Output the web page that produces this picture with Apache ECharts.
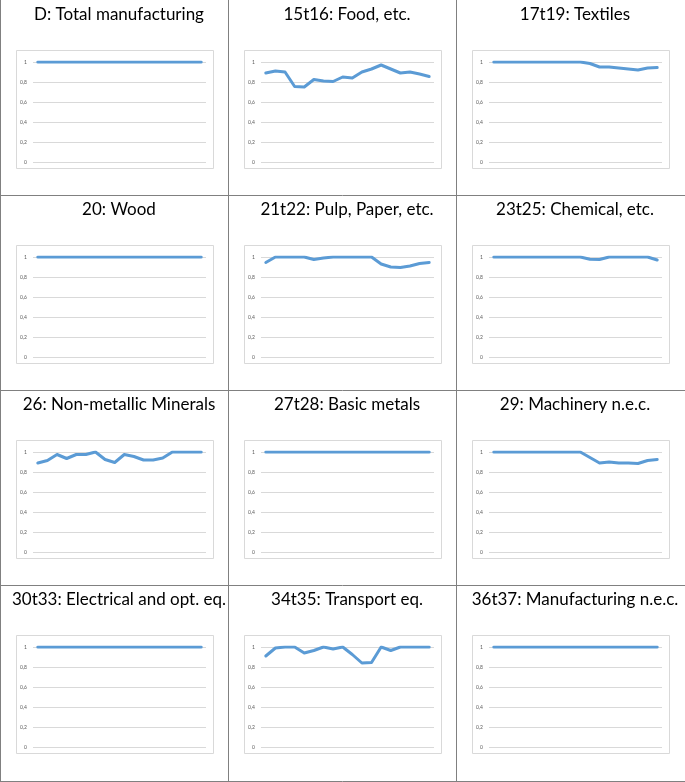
<!DOCTYPE html>
<html>
<head>
<meta charset="utf-8">
<script src="https://cdn.jsdelivr.net/npm/echarts@6/dist/echarts.min.js"></script>
<style>
  html, body { margin: 0; padding: 0; background: #fff; }
  #main { width: 685px; height: 782px; }
</style>
</head>
<body>
<div id="main"></div>
<script>
// years on the hidden x axis
var years = ['1995','1996','1997','1998','1999','2000','2001','2002','2003',
             '2004','2005','2006','2007','2008','2009','2010','2011','2012'];
var yTicks = ['0', '0,2', '0,4', '0,6', '0,8', '1'];

var titles = ['D: Total manufacturing', '15t16: Food, etc.', '17t19: Textiles',
              '20: Wood', '21t22: Pulp, Paper, etc.', '23t25: Chemical, etc.',
              '26: Non-metallic Minerals', '27t28: Basic metals', '29: Machinery n.e.c.',
              '30t33: Electrical and opt. eq.', '34t35: Transport eq.', '36t37: Manufacturing n.e.c.'];

var totalMfg   = [1,1,1,1,1,1,1,1,1,1,1,1,1,1,1,1,1,1];
var food       = [0.89,0.91,0.90,0.755,0.75,0.825,0.81,0.805,0.85,0.84,0.90,0.93,0.97,0.93,0.89,0.90,0.88,0.855];
var textiles   = [1,1,1,1,1,1,1,1,1,1,0.985,0.95,0.95,0.94,0.93,0.92,0.94,0.945];
var wood       = [1,1,1,1,1,1,1,1,1,1,1,1,1,1,1,1,1,1];
var pulp       = [0.945,1,1,1,1,0.975,0.99,1,1,1,1,1,0.93,0.90,0.895,0.91,0.935,0.945];
var chemical   = [1,1,1,1,1,1,1,1,1,1,0.978,0.975,1,1,1,1,1,0.97];
var minerals   = [0.89,0.915,0.975,0.935,0.975,0.975,1,0.925,0.895,0.975,0.955,0.92,0.92,0.94,1,1,1,1];
var basicMetal = [1,1,1,1,1,1,1,1,1,1,1,1,1,1,1,1,1,1];
var machinery  = [1,1,1,1,1,1,1,1,1,1,0.945,0.89,0.90,0.89,0.89,0.885,0.915,0.925];
var electrical = [1,1,1,1,1,1,1,1,1,1,1,1,1,1,1,1,1,1];
var transport  = [0.91,0.99,1,1,0.94,0.965,1,0.98,1,0.925,0.84,0.845,1,0.965,1,1,1,1];
var otherMfg   = [1,1,1,1,1,1,1,1,1,1,1,1,1,1,1,1,1,1];

var allSeries = [totalMfg, food, textiles, wood, pulp, chemical,
                 minerals, basicMetal, machinery, electrical, transport, otherMfg];

var cellW = 228, cellH = 195;
var option = {
    backgroundColor: '#fff',
    animation: false,
    title: [], grid: [], xAxis: [], yAxis: [], series: [], graphic: []
};

for (var i = 0; i < 12; i++) {
    var col = i % 3, row = Math.floor(i / 3);
    var x0 = col * cellW, y0 = row * cellH;

    option.title.push({
        text: titles[i],
        left: x0 + cellW / 2, top: y0 + 1,
        textAlign: 'center',
        textStyle: { fontFamily: 'Lato', fontSize: 17, fontWeight: 'normal', color: '#000' }
    });
    option.grid.push({ left: x0 + 33, top: y0 + 62, width: 173, height: 100 });
    option.xAxis.push({
        type: 'category', gridIndex: i, data: years, boundaryGap: true,
        axisLine: { show: false }, axisTick: { show: false }, axisLabel: { show: false }
    });
    option.yAxis.push({
        type: 'value', gridIndex: i, min: 0, max: 1, interval: 0.2,
        axisLine: { show: false }, axisTick: { show: false },
        axisLabel: {
            fontSize: 5, color: '#595959', margin: 6, fontFamily: 'Lato',
            formatter: function (v) { return yTicks[Math.round(v * 5)]; }
        },
        splitLine: { lineStyle: { color: '#D9D9D9', width: 1 } }
    });
    option.series.push({
        type: 'line', xAxisIndex: i, yAxisIndex: i, data: allSeries[i],
        symbol: 'none', lineStyle: { color: '#5B9BD5', width: 3, join: 'round', cap: 'round' }
    });
    // inner chart-area box
    option.graphic.push({
        type: 'rect', silent: true,
        shape: { x: x0 + 16.5, y: y0 + 50.5, width: 197, height: 118 },
        style: { fill: 'none', stroke: '#D9D9D9', lineWidth: 1 }
    });
}

// cell borders
[0.5, 228.5, 456.5].forEach(function (x) {
    option.graphic.push({ type: 'line', silent: true,
        shape: { x1: x, y1: 0, x2: x, y2: 782 },
        style: { stroke: '#808080', lineWidth: 1 } });
});
[195.5, 390.5, 585.5, 781.5].forEach(function (y) {
    option.graphic.push({ type: 'line', silent: true,
        shape: { x1: 0, y1: y, x2: 685, y2: y },
        style: { stroke: '#808080', lineWidth: 1 } });
});

var myChart = echarts.init(document.getElementById('main'));
myChart.setOption(option);
</script>
</body>
</html>
